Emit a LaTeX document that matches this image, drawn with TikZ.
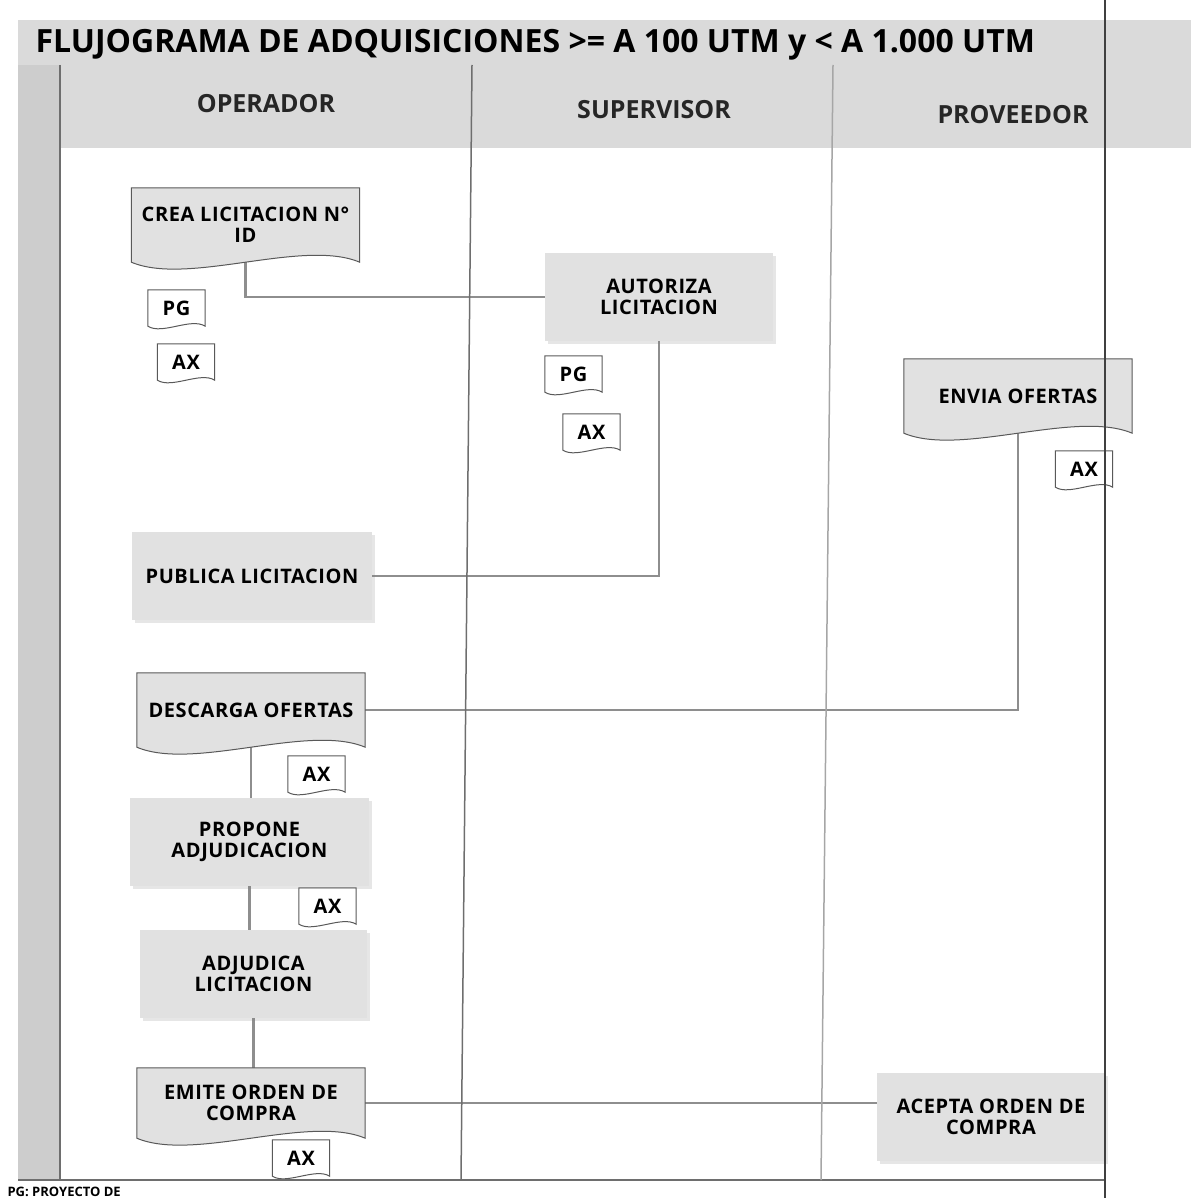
\documentclass[tikz,border=0pt]{standalone}
\usepackage{fontspec}
\setmainfont{Open Sans}
\newfontfamily\boxface[LetterSpace=3]{Open Sans}
\usetikzlibrary{calc,backgrounds,shadows}

\definecolor{boxgray}{HTML}{E1E1E1}
\definecolor{headgray}{HTML}{DADADA}
\definecolor{stripgray}{HTML}{CDCDCD}
\definecolor{linegray}{HTML}{8E8E8E}
\definecolor{lanegray}{HTML}{6E6E6E}

\newcommand{\boxfont}{\boxface\bfseries\fontsize{20}{21}\selectfont}
% document symbol with a wavy bottom edge: node, wave depth, fill
\newcommand{\docshape}[3]{%
  \filldraw[fill=#3, draw=black!65, line width=1pt]
    (#1.north west) -- (#1.north east) -- (#1.south east)
    .. controls ($(#1.south)!0.5!(#1.south east)+(0,-#2)$) and ($(#1.south west)!0.5!(#1.south)+(0,#2)$) .. (#1.south west) -- cycle;}

\begin{document}
\begin{tikzpicture}[x=1pt,y=-1pt,
	head/.style={font=\bfseries\fontsize{25}{28}\selectfont, text=black!85},
	proc/.style={rectangle, fill=boxgray, minimum width=228pt, minimum height=88pt, align=center, font=\boxfont,
		drop shadow={opacity=0.2, shadow xshift=3pt, shadow yshift=-3pt}},
	doc/.style={rectangle, minimum width=228pt, minimum height=74pt, align=center, font=\boxfont},
	tag/.style={rectangle, minimum width=57pt, minimum height=36pt, font=\boxfont},
	conn/.style={draw=linegray, line width=2.2pt},
	lane/.style={draw=lanegray, line width=1.5pt}]
	\useasboundingbox (0,0) rectangle (1191,1198);

	% frame, title and lanes
	\fill[headgray] (18,20) rectangle (1191,65);
	\fill[stripgray] (18,65) rectangle (60,1180);
	\fill[headgray] (60,65) rectangle (1191,148);
	\draw[lane] (60,65) -- (60,1180);
	\draw[lane] (18,1180) -- (1105,1180);
	\draw[lane] (472,65) -- (461,1180);
	\draw[lane, draw=black!35] (833,65) -- (821,1180);
	\node[anchor=west, font=\bfseries\fontsize{32}{36}\selectfont] (title) at (32,45) {FLUJOGRAMA DE ADQUISICIONES >= A 100 UTM y < A 1.000 UTM};
	\node[head] (hop) at (266,104) {OPERADOR};
	\node[head] (hsu) at (654,110) {SUPERVISOR};
	\node[head] (hpr) at (1013,115) {PROVEEDOR};

	% steps
	\node[doc] (crea) at (245.5,225) {CREA LICITACION N°\\ID};
	\node[tag] (pga) at (176.5,308) {PG};
	\node[tag] (axa) at (186,362) {AX};
	\node[proc] (autoriza) at (659,297) {AUTORIZA\\LICITACION};
	\node[tag] (pgb) at (573.5,374) {PG};
	\node[tag] (axb) at (591.5,432) {AX};
	\node[doc] (envia) at (1018,396) {ENVIA OFERTAS};
	\node[tag] (axc) at (1084,469) {AX};
	\node[proc, minimum width=240pt] (publica) at (252,576) {PUBLICA LICITACION};
	\node[doc] (descarga) at (251,710) {DESCARGA OFERTAS};
	\node[tag] (axd) at (316.5,774) {AX};
	\node[proc, minimum width=239pt] (propone) at (249.5,842) {PROPONE\\ADJUDICACION};
	\node[tag] (axe) at (327.5,906) {AX};
	\node[proc, minimum width=227pt] (adjudica) at (253.5,974) {ADJUDICA\\LICITACION};
	\node[doc, minimum height=70pt] (emite) at (251,1103) {EMITE ORDEN DE\\COMPRA};
	\node[tag] (axf) at (301,1158) {AX};
	\node[proc] (acepta) at (991,1117) {ACEPTA ORDEN DE\\COMPRA};

	\begin{pgfonlayer}{background}
	\draw[conn] (crea.south) |- (autoriza.west);
	\draw[conn] (autoriza.south) |- (publica.east);
	\draw[conn] (envia.south) |- (descarga.east);
	\draw[conn] (descarga.south) -- (descarga.south |- propone.north);
	\draw[conn] (propone.south) -- (propone.south |- adjudica.north);
	\draw[conn] (adjudica.south) -- (adjudica.south |- emite.north);
	\draw[conn] (emite.east) -- (emite.east -| acepta.west);
	\foreach \n in {crea,envia,descarga,emite} {\docshape{\n}{24}{boxgray}}
	\foreach \n in {pga,axa,pgb,axb,axc,axd,axe,axf} {\docshape{\n}{9}{white}}
	\end{pgfonlayer}

	% page edge of the scan
	\draw[draw=black!75, line width=1.5pt] (1105,0) -- (1105,1198);
	\node[anchor=base west, font=\bfseries\fontsize{13}{14}\selectfont] (nota) at (4,1196) {PG: PROYECTO DE};
\end{tikzpicture}
\end{document}
